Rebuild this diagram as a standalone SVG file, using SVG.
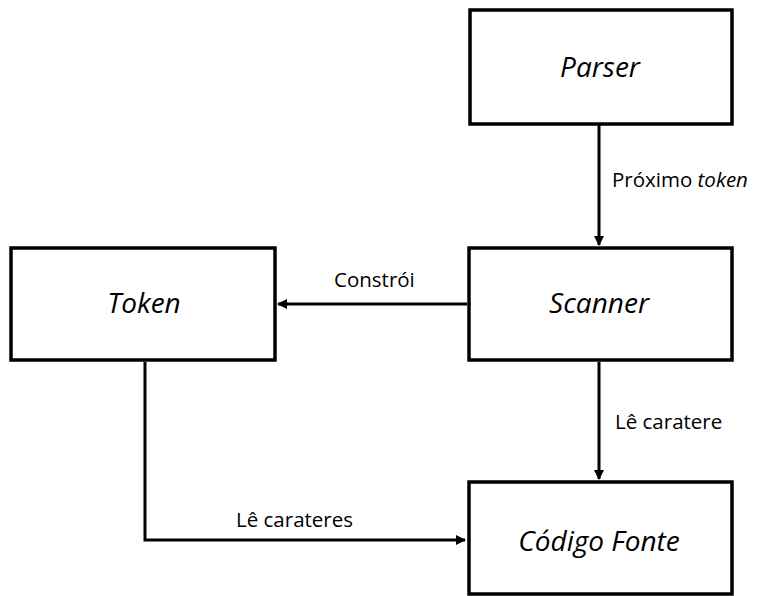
<svg xmlns="http://www.w3.org/2000/svg" width="759" height="596" viewBox="0 0 759 596">
  <style>
    .box { fill: #ffffff; stroke: #000000; stroke-width: 3.5; }
    .name { font-family: "Open Sans", "Liberation Sans", sans-serif; font-style: italic; font-size: 28px; fill: #000; text-anchor: middle; }
    .lbl { font-family: "Open Sans", "Liberation Sans", sans-serif; font-size: 20.5px; fill: #000; }
    .wire { fill: none; stroke: #000000; stroke-width: 3; }
  </style>
  <defs>
    <marker id="arrow" markerWidth="10" markerHeight="10" refX="9" refY="5" orient="auto" markerUnits="userSpaceOnUse">
      <path d="M0,0 L10,5 L0,10 Z" fill="#000"/>
    </marker>
  </defs>
  <rect width="759" height="596" fill="#ffffff"/>

  <g id="connectors">
    <line class="wire" x1="599" y1="125" x2="599" y2="245" marker-end="url(#arrow)"/>
    <line class="wire" x1="467" y1="304" x2="278" y2="304" marker-end="url(#arrow)"/>
    <line class="wire" x1="599" y1="362" x2="599" y2="479" marker-end="url(#arrow)"/>
    <polyline class="wire" points="145,362 145,540 465,540" marker-end="url(#arrow)"/>
    <text class="lbl" x="612" y="187">Próximo <tspan font-style="italic">token</tspan></text>
    <text class="lbl" x="334" y="287">Constrói</text>
    <text class="lbl" x="615" y="429">Lê caratere</text>
    <text class="lbl" x="236" y="527">Lê carateres</text>
  </g>

  <g id="parser">
    <rect class="box" x="470" y="10" width="262" height="114"/>
    <text class="name" x="600" y="77">Parser</text>
  </g>
  <g id="token">
    <rect class="box" x="11" y="248" width="264" height="112"/>
    <text class="name" x="144" y="313">Token</text>
  </g>
  <g id="scanner">
    <rect class="box" x="469" y="248" width="263" height="112"/>
    <text class="name" x="599" y="313">Scanner</text>
  </g>
  <g id="codigo-fonte">
    <rect class="box" x="469" y="482" width="263" height="112"/>
    <text class="name" x="599" y="551">Código Fonte</text>
  </g>
</svg>
